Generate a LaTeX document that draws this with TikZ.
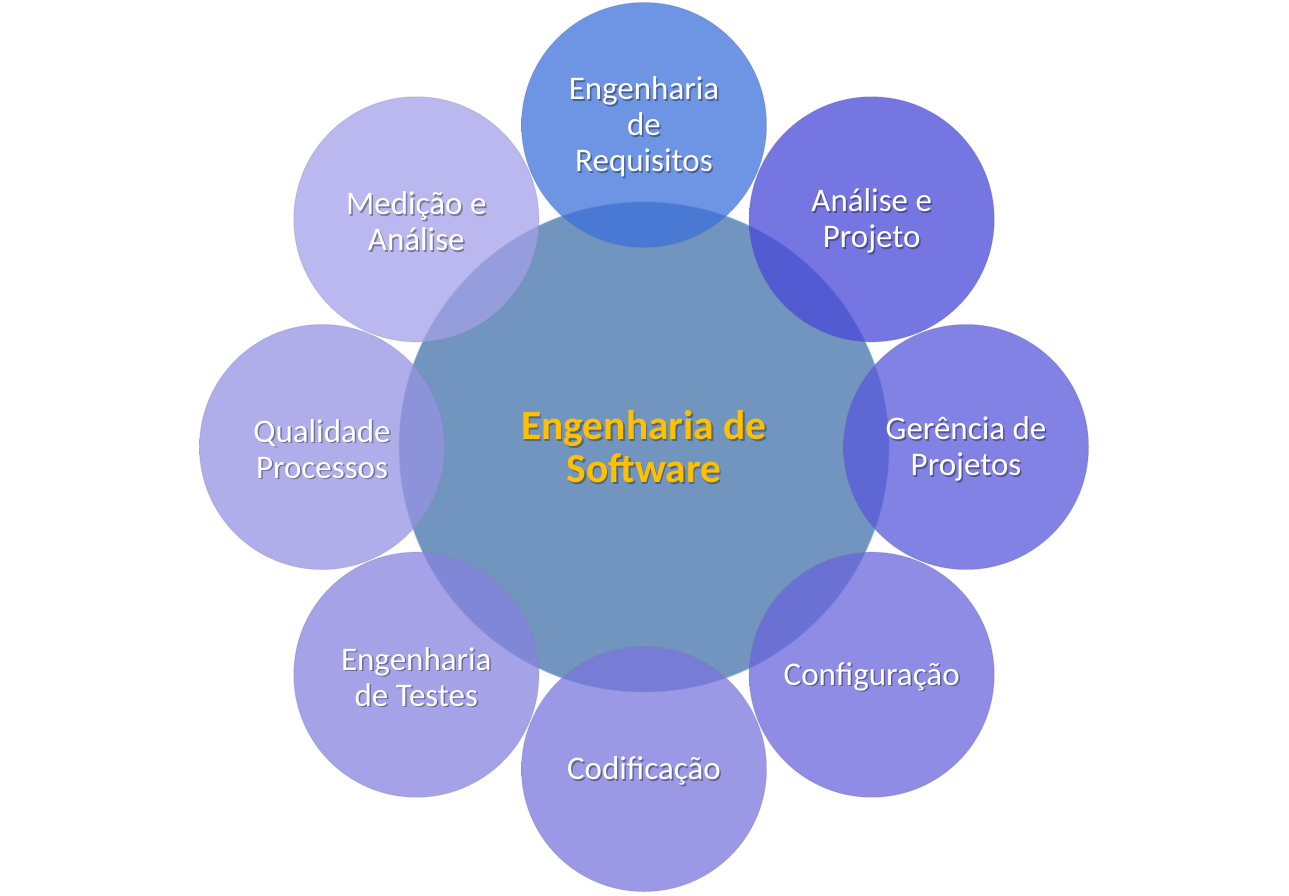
\documentclass[tikz,border=0pt]{standalone}
\usepackage{fontspec}
\setmainfont{Carlito}
\definecolor{satc}{RGB}{61,112,219}
\definecolor{satl}{RGB}{160,190,240}
\pgfdeclareradialshading[satc,satl]{glossy}{\pgfpoint{0bp}{0bp}}{color(0bp)=(satc); color(36bp)=(satc); color(47bp)=(satl); color(50bp)=(satl)}
\definecolor{corec}{RGB}{113,149,190}
\definecolor{coreedge}{RGB}{150,200,230}
\definecolor{titlec}{RGB}{255,192,0}
\definecolor{cReq}{RGB}{61,112,219}
\definecolor{cAna}{RGB}{72,72,216}
\definecolor{cGer}{RGB}{88,88,219}
\definecolor{cCfg}{RGB}{104,101,219}
\definecolor{cCod}{RGB}{122,118,222}
\definecolor{cTst}{RGB}{135,131,224}
\definecolor{cQua}{RGB}{150,147,227}
\definecolor{cMed}{RGB}{163,160,232}
\tikzset{
  satcircle/.style={circle, minimum size=245pt, inner sep=0pt,
    /utils/exec={\colorlet{satc}{#1}\colorlet{satl}{#1!50!white}},
    shading=glossy, fill opacity=0.75,
    draw=#1!50!gray, draw opacity=0.3, line width=1pt},
  sattext/.style={text=white, align=center, inner sep=0pt,
    font=\fontsize{33}{36}\selectfont},
  txtshadow/.style={sattext, text=black, text opacity=0.35},
  corecircle/.style={circle, minimum size=490pt, inner sep=0pt,
    fill=corec, draw=coreedge, draw opacity=0.6, line width=1pt},
  coretext/.style={text=titlec, align=center, inner sep=0pt,
    font=\fontsize{41.5}{43}\selectfont\bfseries},
  coreshadow/.style={coretext, text=black, text opacity=0.3}
}
\newcommand\satellite[4]{%
  \node[satcircle=#3] (#1) at (#2:322pt) {};
  \node[txtshadow] (#1s) at ([xshift=1.5pt,yshift=-3.5pt]#1.center) {#4};
  \node[sattext] (#1t) at ([yshift=-2pt]#1.center) {#4};}
\begin{document}
\begin{tikzpicture}
\useasboundingbox (-644pt,-448pt) rectangle (645pt,447pt);
\node[corecircle] (core) at (0,0) {};
\node[coreshadow] (cores) at ([xshift=1.5pt,yshift=-1.5pt]core.center) {Engenharia de\\Software};
\node[coretext] (coret) at (core.center) {Engenharia de\\Software};
\satellite{req}{90}{cReq}{Engenharia\\de\\Requisitos}
\satellite{ana}{45}{cAna}{Análise e\\Projeto}
\satellite{ger}{0}{cGer}{Gerência de\\Projetos}
\satellite{cfg}{-45}{cCfg}{Configuração}
\satellite{cod}{-90}{cCod}{Codificação}
\satellite{tst}{-135}{cTst}{Engenharia\\de Testes}
\satellite{qua}{180}{cQua}{Qualidade\\Processos}
\satellite{med}{135}{cMed}{Medição e\\Análise}
\end{tikzpicture}
\end{document}
